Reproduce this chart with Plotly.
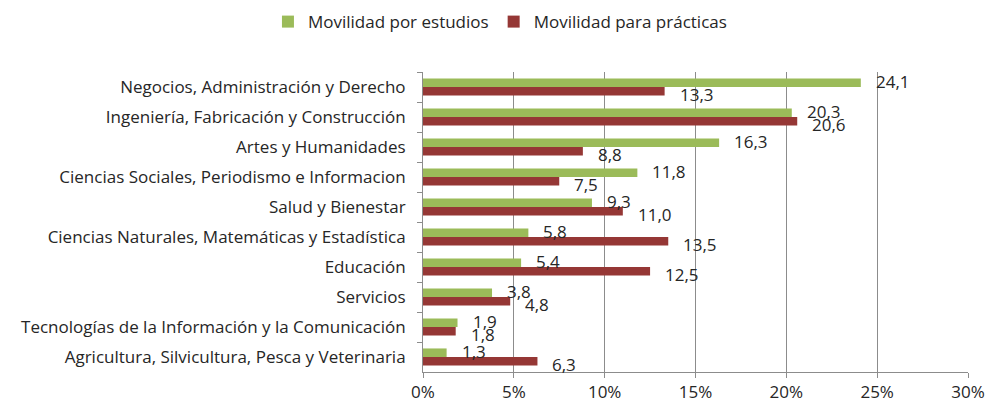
import plotly.graph_objects as go

categories = [
    "Negocios, Administración y Derecho",
    "Ingeniería, Fabricación y Construcción",
    "Artes y Humanidades",
    "Ciencias Sociales, Periodismo e Informacion",
    "Salud y Bienestar",
    "Ciencias Naturales, Matemáticas y Estadística",
    "Educación",
    "Servicios",
    "Tecnologías de la Información y la Comunicación",
    "Agricultura, Silvicultura, Pesca y Veterinaria",
]
estudios = [24.1, 20.3, 16.3, 11.8, 9.3, 5.8, 5.4, 3.8, 1.9, 1.3]
practicas = [13.3, 20.6, 8.8, 7.5, 11.0, 13.5, 12.5, 4.8, 1.8, 6.3]
tick_vals = [0, 5, 10, 15, 20, 25, 30]
tick_text = ["0%", "5%", "10%", "15%", "20%", "25%", "30%"]

GREEN = "#9BBB59"
RED = "#953735"
FONT = "Open Sans"
TXT = "#262626"
GRID = "#8c8c8c"
FS = 17

fig = go.Figure()
fig.add_trace(go.Bar(y=categories, x=estudios, orientation="h", name="Movilidad por estudios",
                     marker=dict(color=GREEN, line=dict(width=0))))
fig.add_trace(go.Bar(y=categories, x=practicas, orientation="h", name="Movilidad para prácticas",
                     marker=dict(color=RED, line=dict(width=0))))

def fmt(v):
    return f"{v:.1f}".replace(".", ",")

for c, v in zip(categories, estudios):
    fig.add_annotation(x=v, y=c, text=fmt(v), xanchor="left", yanchor="middle",
                       xshift=13, yshift=6, showarrow=False,
                       font=dict(family=FONT, size=FS, color=TXT))
for c, v in zip(categories, practicas):
    fig.add_annotation(x=v, y=c, text=fmt(v), xanchor="left", yanchor="middle",
                       xshift=13, yshift=-7, showarrow=False,
                       font=dict(family=FONT, size=FS, color=TXT))

n = len(categories)
fig.update_layout(
    width=990, height=405,
    barmode="group", bargap=0.43, bargroupgap=0,
    plot_bgcolor="white", paper_bgcolor="white",
    margin=dict(l=423, r=22, t=72, b=33),
    font=dict(family=FONT, size=FS, color=TXT),
    legend=dict(orientation="h", xref="container", yref="container",
                x=0.505, y=0.99, xanchor="center", yanchor="top",
                font=dict(family=FONT, size=FS, color=TXT),
                itemwidth=30, traceorder="normal"),
    xaxis=dict(range=[0, 30], tickvals=tick_vals, ticktext=tick_text,
               showgrid=True, gridcolor=GRID, gridwidth=1, automargin=False,
               showline=True, linecolor=GRID, ticks="outside", ticklen=5,
               tickcolor=GRID, zeroline=False,
               tickfont=dict(family=FONT, size=FS, color=TXT)),
    yaxis=dict(range=[n - 0.5, -0.5], showline=True, linecolor=GRID, automargin=False,
               ticks="outside", ticklen=5, tickcolor=GRID, tickson="boundaries",
               ticklabelstandoff=13,
               showgrid=False, tickfont=dict(family=FONT, size=FS, color=TXT)),
)

fig.write_html("out.html", config={"displayModeBar": False},
               post_script="document.body.style.margin='0';")
